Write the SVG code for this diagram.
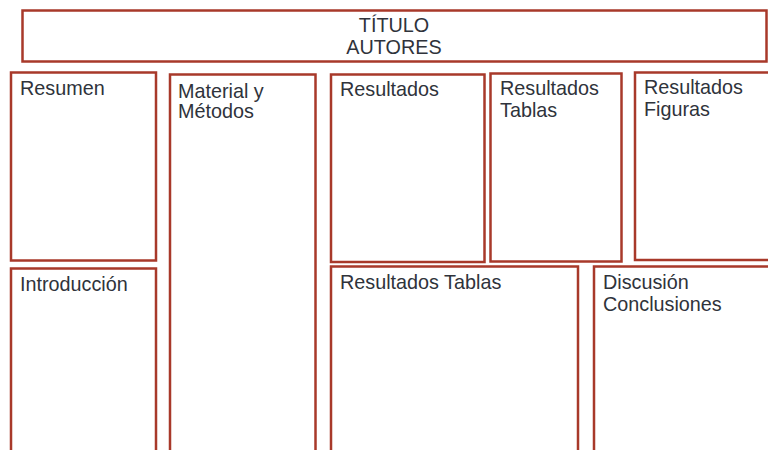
<svg xmlns="http://www.w3.org/2000/svg" width="768" height="450" viewBox="0 0 768 450">
<style>
.b{fill:#fff;stroke:#a8392a;stroke-width:2.5}
.t{font-family:"Liberation Sans",Arial,sans-serif;font-size:19.8px;fill:#2f333b}
</style>
<rect width="768" height="450" fill="#fff"/>
<g id="titulo"><rect class="b" x="22.5" y="10.5" width="744" height="51" stroke-width="3"/>
<text class="t" x="394" y="32" text-anchor="middle">TÍTULO</text>
<text class="t" x="394" y="54" text-anchor="middle">AUTORES</text></g>
<g id="resumen"><rect class="b" x="11" y="72.5" width="145" height="188"/>
<text class="t" x="20" y="95">Resumen</text></g>
<g id="introduccion"><rect class="b" x="11" y="268.5" width="145" height="200"/>
<text class="t" x="20" y="291">Introducción</text></g>
<g id="material"><rect class="b" x="170" y="74.5" width="145.5" height="400"/>
<text class="t" x="178" y="98">Material y</text>
<text class="t" x="178" y="118">Métodos</text></g>
<g id="resultados"><rect class="b" x="331" y="74.5" width="153.5" height="187.5"/>
<text class="t" x="340" y="96">Resultados</text></g>
<g id="resultados-tablas-1"><rect class="b" x="490.5" y="73.5" width="131" height="188"/>
<text class="t" x="500" y="95">Resultados</text>
<text class="t" x="500" y="117">Tablas</text></g>
<g id="resultados-figuras"><rect class="b" x="635" y="72.5" width="140" height="187.5"/>
<text class="t" x="644" y="94">Resultados</text>
<text class="t" x="644" y="116">Figuras</text></g>
<g id="resultados-tablas-2"><rect class="b" x="331" y="266.5" width="247" height="200"/>
<text class="t" x="340" y="289">Resultados Tablas</text></g>
<g id="discusion"><rect class="b" x="594" y="266.5" width="180" height="200"/>
<text class="t" x="603" y="289">Discusión</text>
<text class="t" x="603" y="311">Conclusiones</text></g>
<g id="connectors"/>
</svg>
